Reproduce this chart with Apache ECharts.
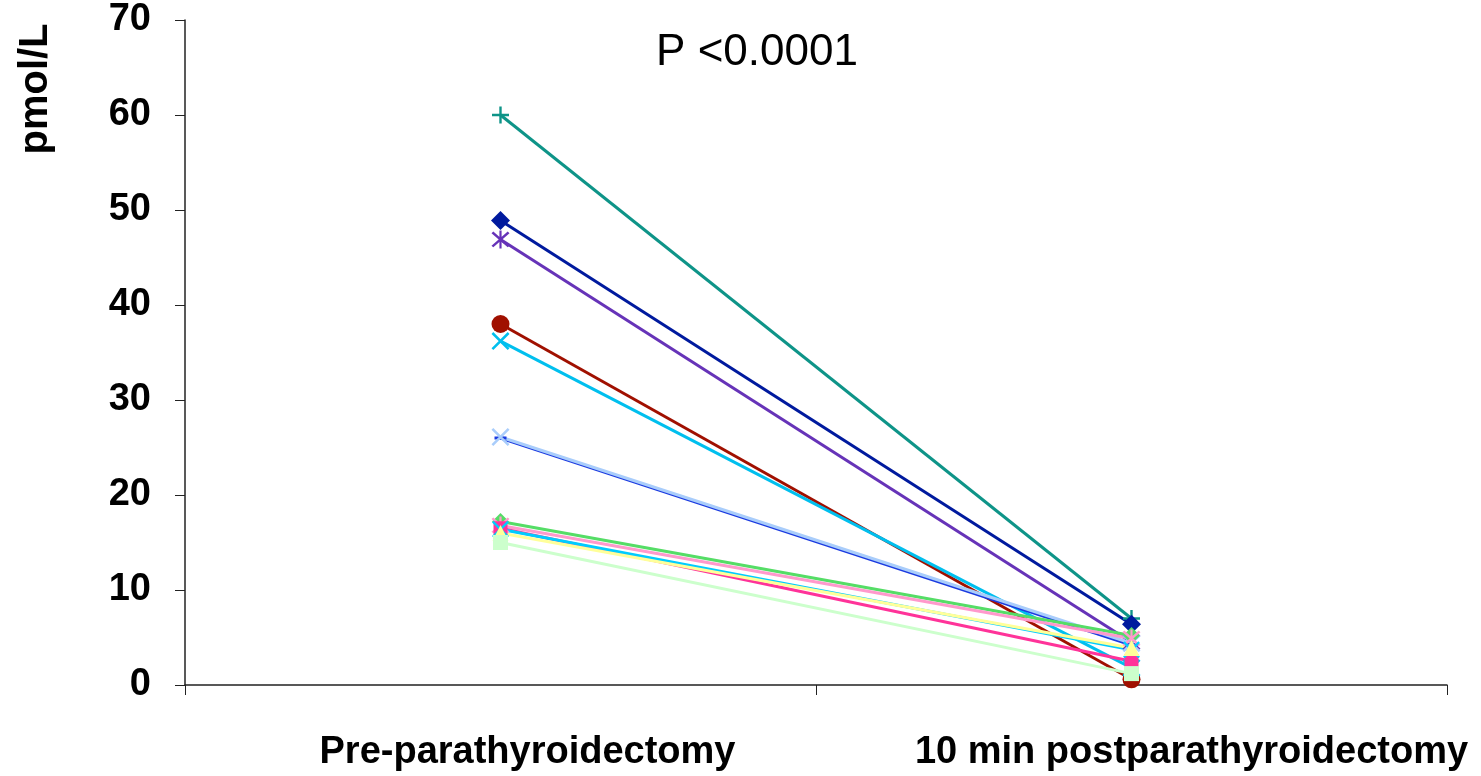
<!DOCTYPE html>
<html>
<head>
<meta charset="utf-8">
<script src="https://cdn.jsdelivr.net/npm/echarts@6/dist/echarts.min.js"></script>
<style>
  html, body { margin: 0; padding: 0; background: #fff; }
  #chart { width: 1481px; height: 776px; }
</style>
</head>
<body>
<div id="chart"></div>
<script>
// categories and per-patient values (pmol/L)
const categories = ['Pre-parathyroidectomy', '10 min postparathyroidectomy'];
const patients = ['P1', 'P2', 'P3', 'P4', 'P5', 'P6', 'P7', 'P8', 'P9', 'P10', 'P11', 'P12', 'P13'];
const preValues  = [60, 48.9, 46.9, 38, 36.2, 26, 26.1, 17.2, 16.8, 16.5, 16.4, 16, 15];
const postValues = [7, 6.4, 4.5, 0.6, 1.8, 4.2, 4.4, 5.2, 4.9, 2.5, 3.7, 3.9, 1.2];
const colors = ['#0e9488', '#001a9e', '#6633b8', '#a01000', '#00bfee', '#1a3ae0', '#a9cdfb',
                '#55dd66', '#ff99cc', '#ff3399', '#00ccff', '#ffff99', '#ccffcc'];

// marker shapes
const PLUS = 'path://M4.3,0H5.7V4.3H10V5.7H5.7V10H4.3V5.7H0V4.3H4.3Z';
const CROSS = 'path://M0,1L1,0L10,9L9,10Z M9,0L10,1L1,10L0,9Z';
const STAR = 'path://M0,1.5L1,0.6L10,8.5L9,9.4Z M9,0.6L10,1.5L1,9.4L0,8.5Z M4.4,0H5.6V10H4.4Z';
const DASH = 'path://M0,0H10V2H0Z';
const symbols = [PLUS, 'diamond', STAR, 'circle', CROSS, DASH, CROSS,
                 'diamond', STAR, 'rect', CROSS, 'triangle', 'rect'];
const symbolSizes = [17, 19, 18, 18, 18, [12, 3], 18, 17, 18, 14, 17, 16, 15];

const chart = echarts.init(document.getElementById('chart'));

const series = patients.map((name, i) => ({
  name: name,
  type: 'line',
  data: [preValues[i], postValues[i]],
  symbol: symbols[i],
  symbolSize: symbolSizes[i],
  showSymbol: true,
  lineStyle: { color: colors[i], width: 3 },
  itemStyle: { color: colors[i] },
  animation: false
}));

const labelFont = { fontFamily: 'Liberation Sans', fontWeight: 'bold', fontSize: 38, color: '#000' };

chart.setOption({
  animation: false,
  title: {
    text: 'P <0.0001',
    left: 752,
    top: 26,
    textAlign: 'center',
    textStyle: { fontFamily: 'Liberation Sans', fontSize: 44, fontWeight: 'normal', color: '#000' }
  },
  grid: { left: 185, right: 34, top: 20, bottom: 91 },
  xAxis: {
    type: 'category',
    data: categories,
    boundaryGap: true,
    axisLine: { lineStyle: { color: '#222', width: 1.5 } },
    axisTick: { show: true, inside: false, length: 10, lineStyle: { color: '#222' } },
    axisLabel: {
      interval: 0,
      hideOverlap: false,
      margin: 49,
      formatter: (v, i) => '{l' + i + '|' + v + '}',
      rich: {
        l0: Object.assign({ padding: [0, 0, 0, 54] }, labelFont),
        l1: Object.assign({ padding: [0, 0, 0, 120] }, labelFont)
      }
    },
    splitLine: { show: false }
  },
  yAxis: {
    type: 'value',
    min: 0,
    max: 70,
    interval: 10,
    axisLine: { show: true, lineStyle: { color: '#222', width: 1.5 } },
    axisTick: { show: true, inside: false, length: 10, lineStyle: { color: '#222' } },
    axisLabel: Object.assign({ margin: 34 }, labelFont),
    splitLine: { show: false }
  },
  graphic: [{
    type: 'text',
    x: 36,
    y: 89,
    rotation: Math.PI / 2,
    style: {
      text: 'pmol/L',
      fill: '#000',
      font: 'bold 40px "Liberation Sans"',
      textAlign: 'center',
      textVerticalAlign: 'middle'
    }
  }],
  series: series
});
</script>
</body>
</html>
